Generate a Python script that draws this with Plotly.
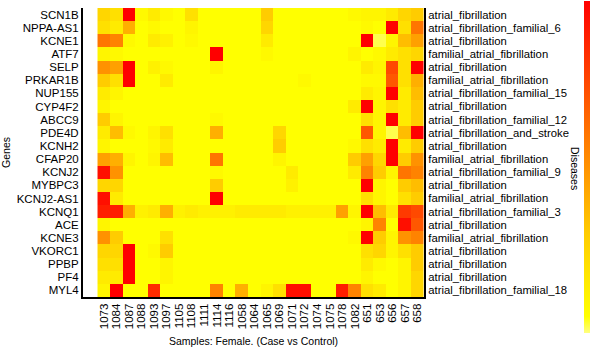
import plotly.graph_objects as go

genes = ["SCN1B", "NPPA-AS1", "KCNE1", "ATF7", "SELP", "PRKAR1B", "NUP155", "CYP4F2",
         "ABCC9", "PDE4D", "KCNH2", "CFAP20", "KCNJ2", "MYBPC3", "KCNJ2-AS1", "KCNQ1",
         "ACE", "KCNE3", "VKORC1", "PPBP", "PF4", "MYL4"]

diseases = ["atrial_fibrillation", "atrial_fibrillation_familial_6", "atrial_fibrillation",
            "familial_atrial_fibrillation", "atrial_fibrillation", "familial_atrial_fibrillation",
            "atrial_fibrillation_familial_15", "atrial_fibrillation", "atrial_fibrillation_familial_12",
            "atrial_fibrillation_and_stroke", "atrial_fibrillation", "familial_atrial_fibrillation",
            "atrial_fibrillation_familial_9", "atrial_fibrillation", "familial_atrial_fibrillation",
            "atrial_fibrillation_familial_3", "atrial_fibrillation", "familial_atrial_fibrillation",
            "atrial_fibrillation", "atrial_fibrillation", "atrial_fibrillation",
            "atrial_fibrillation_familial_18"]

samples = ["1073", "1084", "1087", "1088", "1093", "1097", "1105", "1108", "1111", "1114",
           "1116", "1058", "1064", "1065", "1069", "1071", "1072", "1074", "1075", "1078",
           "1082", "651", "653", "656", "657", "658"]

values = [
    [.25, .2, 1, .08, .15, .08, .05, .2, .05, .05, .05, .05, .05, .3, .05, .05, .05, .05, .05, .05, .08, .1, .1, .15, .25, .3],
    [.2, .15, .4, .05, .08, .05, .05, .1, .05, .05, .05, .05, .05, .25, .05, .05, .05, .05, .05, .05, .05, .08, .05, 1, .2, .6],
    [.6, .55, .08, .05, .15, .12, .05, .08, .05, .05, .05, .05, .05, .15, .05, .05, .05, .05, .05, .05, .05, 1, .02, .1, .35, .45],
    [.1, .08, .05, .05, .05, .05, .05, .05, .05, 1, .05, .05, .05, .08, .05, .05, .05, .05, .05, .05, .1, .05, .08, .15, .2, .25],
    [.5, .45, 1, .05, .12, .08, .05, .05, .05, .1, .05, .05, .05, .05, .05, .05, .05, .05, .05, .05, .05, .15, .1, .75, .2, 1],
    [.3, .2, 1, .05, .05, .15, .05, .05, .05, .05, .05, .05, .05, .05, .05, .05, .08, .05, .05, .05, .05, .08, .08, .7, .2, .4],
    [.15, .1, .05, .05, .05, .05, .05, .05, .05, .05, .05, .05, .05, .05, .05, .05, .05, .05, .05, .05, .05, .15, .1, 1, .15, .35],
    [.1, .05, .05, .05, .05, .05, .05, .05, .05, .05, .05, .05, .05, .05, .05, .05, .05, .05, .05, .05, .15, 1, .1, .2, .15, .3],
    [.3, .1, .05, .05, .05, .05, .05, .05, .05, .08, .05, .05, .05, .05, .05, .05, .05, .05, .05, .05, .05, .2, .1, 1, .15, .3],
    [.15, .35, .08, .05, .1, .2, .05, .05, .05, .4, .05, .05, .05, .05, .25, .05, .05, .05, .05, .05, .05, .7, .1, .02, .35, 1],
    [.1, .05, .05, .05, .08, .15, .05, .05, .05, .05, .05, .05, .05, .05, .3, .05, .05, .05, .05, .05, .08, .2, .15, 1, .15, .3],
    [.45, .4, .1, .05, .1, .35, .05, .05, .05, .6, .05, .05, .05, .05, .1, .05, .05, .05, .05, .05, .3, .45, .25, 1, .3, .5],
    [.95, .5, .05, .05, .05, .05, .05, .05, .05, .08, .05, .05, .05, .05, .05, .15, .05, .05, .05, .05, .15, .55, .3, .1, .6, .55],
    [.25, .25, .05, .05, .05, .05, .05, .05, .05, .3, .05, .05, .05, .05, .05, .12, .05, .05, .05, .05, .05, 1, .1, .05, .3, .35],
    [.95, .15, .05, .05, .05, .05, .05, .05, .05, 1, .05, .05, .05, .05, .05, .05, .05, .05, .05, .05, .05, .2, .1, .05, .2, .3],
    [.9, .9, .4, .12, .15, .4, .12, .15, .12, .12, .12, .15, .15, .15, .15, .12, .12, .12, .12, .45, .1, 1, .35, .15, .8, .75],
    [.1, .05, .05, .05, .05, .05, .05, .05, .05, .05, .05, .05, .05, .05, .05, .05, .05, .05, .05, .05, .05, .1, .55, .05, .95, .7],
    [.5, .3, .05, .05, .05, .2, .05, .05, .05, .05, .05, .05, .05, .05, .05, .05, .05, .05, .05, .05, .08, 1, .3, .1, .5, .55],
    [.25, .25, 1, .05, .08, .3, .05, .05, .05, .05, .05, .05, .05, .05, .05, .05, .05, .05, .05, .05, .05, .2, .25, .1, .2, .3],
    [.2, .2, 1, .05, .05, .1, .05, .05, .05, .05, .05, .05, .05, .05, .05, .05, .05, .05, .05, .05, .05, .15, .08, .05, .1, .3],
    [.15, .15, 1, .05, .05, .1, .05, .05, .05, .05, .05, .05, .05, .05, .05, .05, .05, .05, .05, .05, .05, .1, .05, .05, .1, .25],
    [.1, 1, .05, .05, .85, .05, .05, .05, .05, .55, .05, .4, .05, .1, .2, .95, .95, .05, .05, .9, .55, .2, .15, .05, .1, .25],
]

FONT = "Liberation Sans, Arial, Helvetica, sans-serif"
rows = list(range(len(genes)))

fig = go.Figure()
fig.add_trace(go.Heatmap(
    z=values, x=samples, y=rows,
    zmin=0, zmax=1,
    colorscale=[[0, "#FFFF80"], [0.05, "#FFFF00"], [0.3, "#FFCC00"], [1, "#FF0000"]],
    colorbar=dict(
        thickness=6, lenmode="pixels", len=332,
        x=1.4692, xanchor="left", xpad=0,
        y=-0.1246, yanchor="bottom", ypad=0,
        showticklabels=False, ticks="", outlinewidth=0,
    ),
    hoverinfo="skip",
))
fig.add_trace(go.Scatter(
    x=[samples[0]], y=[0], yaxis="y2", mode="markers",
    marker=dict(opacity=0), showlegend=False, hoverinfo="skip",
))

fig.update_layout(
    width=590, height=347,
    margin=dict(l=83, r=166, t=8, b=50, autoexpand=False),
    paper_bgcolor="white", plot_bgcolor="white",
    font=dict(family=FONT, color="black"),
    showlegend=False,
    xaxis=dict(
        type="category", tickangle=-90, ticks="", automargin=False,
        tickmode="array", tickvals=samples, ticktext=samples,
        showline=True, linecolor="black", linewidth=2,
        showgrid=False, zeroline=False,
        tickfont=dict(size=11.5, family=FONT, color="black"),
        title=dict(text="Samples: Female. (Case vs Control)",
                   font=dict(size=10.5, family=FONT, color="black"), standoff=14),
    ),
    yaxis=dict(
        range=[len(genes) - 0.5, -0.5], tickvals=rows, ticktext=genes, automargin=False,
        ticks="", showline=True, linecolor="black", linewidth=2,
        showgrid=False, zeroline=False,
        tickfont=dict(size=11.5, family=FONT, color="black"),
        title=dict(text="Genes", font=dict(size=10.5, family=FONT, color="black"), standoff=7),
    ),
    yaxis2=dict(
        overlaying="y", side="right", automargin=False,
        range=[len(genes) - 0.5, -0.5], tickvals=rows, ticktext=diseases,
        ticks="", showline=True, linecolor="black", linewidth=2,
        showgrid=False, zeroline=False,
        tickfont=dict(size=11.3, family=FONT, color="black"),
    ),
    annotations=[dict(
        text="Diseases", textangle=90, showarrow=False,
        xref="paper", yref="paper", x=(575 - 83) / 341, y=(297 - 168) / 289,
        xanchor="center", yanchor="middle",
        font=dict(size=10.5, family=FONT, color="black"),
    )],
)

fig.write_html("out.html")
